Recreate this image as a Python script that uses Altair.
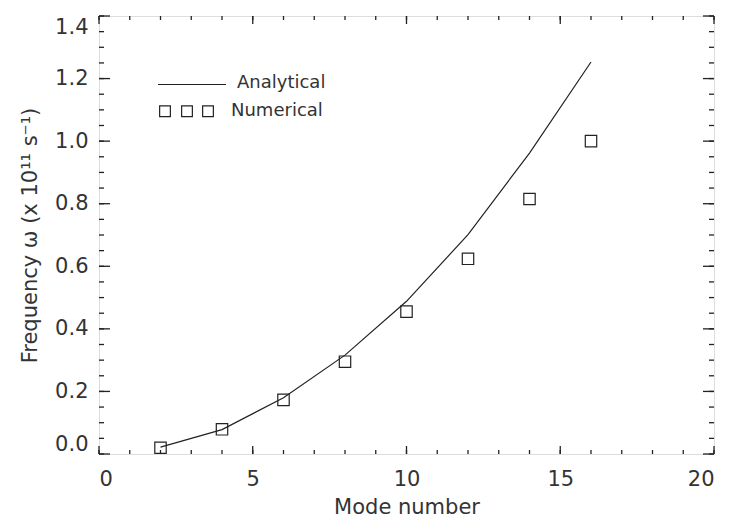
import altair as alt
import pandas as pd

# ---- data ----
mode_number = [2, 4, 6, 8, 10, 12, 14, 16]
analytical = [0.022, 0.078, 0.180, 0.316, 0.488, 0.701, 0.962, 1.253]
numerical = [0.020, 0.079, 0.173, 0.295, 0.455, 0.624, 0.815, 1.000]

x_major = [0, 5, 10, 15, 20]
x_minor = list(range(0, 21))
y_major = [0.0, 0.2, 0.4, 0.6, 0.8, 1.0, 1.2, 1.4]
y_minor = [round(i * 0.05, 2) for i in range(29)]

legend_labels = ["Analytical", "Numerical"]
x_title = "Mode number"
y_title = "Frequency \u03c9 (x 10\u00b9\u00b9 s\u207b\u00b9)"

W, H = 615, 438
FONT = "DejaVu Sans"
TXT = "#333333"
INK = "#222222"

df = pd.DataFrame({"mode": mode_number, "analytical": analytical, "numerical": numerical})

xscale = alt.Scale(domain=[0, 20], nice=False, zero=False)
yscale = alt.Scale(domain=[0, 1.4], nice=False, zero=False)

xaxis = alt.Axis(values=x_major, ticks=False, domain=False, grid=False,
                 labelFont=FONT, labelFontSize=21, labelColor=TXT, labelPadding=14,
                 title=x_title, titleFont=FONT, titleFontSize=21, titleFontWeight="normal",
                 titleColor=TXT, titleX=W / 2, titleY=53, titleBaseline="middle",
                 titleAlign="center")
yaxis = alt.Axis(values=y_major, format=".1f", ticks=False, domain=False, grid=False,
                 labelFont=FONT, labelFontSize=21, labelColor=TXT, labelPadding=11,
                 labelFlush=True, labelFlushOffset=0,
                 title=y_title, titleFont=FONT, titleFontSize=21, titleFontWeight="normal",
                 titleColor=TXT, titleX=-69, titleY=H / 2, titleBaseline="middle",
                 titleAlign="center", titleAngle=270)

line = alt.Chart(df).mark_line(color=INK, strokeWidth=1.2).encode(
    x=alt.X("mode:Q", scale=xscale, axis=xaxis),
    y=alt.Y("analytical:Q", scale=yscale, axis=yaxis),
)
points = alt.Chart(df).mark_point(shape="square", filled=False, size=130,
                                  color=INK, strokeWidth=1.2, opacity=1).encode(
    x=alt.X("mode:Q", scale=xscale),
    y=alt.Y("numerical:Q", scale=yscale),
)

layers = [line, points]


def xticks(vals, length):
    d = pd.DataFrame({"v": vals})
    bot = alt.Chart(d).mark_rule(color=INK, strokeWidth=1.3).encode(
        x=alt.X("v:Q", scale=xscale), y=alt.value(H), y2=alt.value(H - length))
    top = alt.Chart(d).mark_rule(color=INK, strokeWidth=1.3).encode(
        x=alt.X("v:Q", scale=xscale), y=alt.value(0), y2=alt.value(length))
    return [bot, top]


def yticks(vals, length):
    d = pd.DataFrame({"v": vals})
    left = alt.Chart(d).mark_rule(color=INK, strokeWidth=1.3).encode(
        y=alt.Y("v:Q", scale=yscale), x=alt.value(0), x2=alt.value(length))
    right = alt.Chart(d).mark_rule(color=INK, strokeWidth=1.3).encode(
        y=alt.Y("v:Q", scale=yscale), x=alt.value(W), x2=alt.value(W - length))
    return [left, right]


layers += xticks(x_minor, 4) + xticks(x_major, 8)
layers += yticks(y_minor, 5) + yticks(y_major, 11)

# ---- legend (annotation) ----
one = pd.DataFrame({"k": [0]})
leg_line = alt.Chart(one).mark_rule(color=INK, strokeWidth=1.2).encode(
    x=alt.value(59), x2=alt.value(127), y=alt.value(68.5))
leg_t1 = alt.Chart(one).mark_text(align="left", baseline="alphabetic", font=FONT,
                                  fontSize=18, color=TXT).encode(
    x=alt.value(138), y=alt.value(71.5), text=alt.value(legend_labels[0]))
leg_t2 = alt.Chart(one).mark_text(align="left", baseline="alphabetic", font=FONT,
                                  fontSize=18, color=TXT).encode(
    x=alt.value(132), y=alt.value(100), text=alt.value(legend_labels[1]))
layers += [leg_line, leg_t1, leg_t2]
for px in [66, 88, 109]:
    layers.append(alt.Chart(one).mark_point(shape="square", filled=False, size=115,
                                            color=INK, strokeWidth=1.2, opacity=1).encode(
        x=alt.value(px), y=alt.value(95.3)))

chart = alt.layer(*layers).properties(
    width=W, height=H,
    autosize=alt.AutoSizeParams(type="none"),
    padding={"left": 99, "top": 16, "right": 15, "bottom": 66},
).configure_view(stroke=INK, strokeWidth=1.4).configure(background="white")

chart.save("out.html", embed_options={"renderer": "svg", "actions": False})
